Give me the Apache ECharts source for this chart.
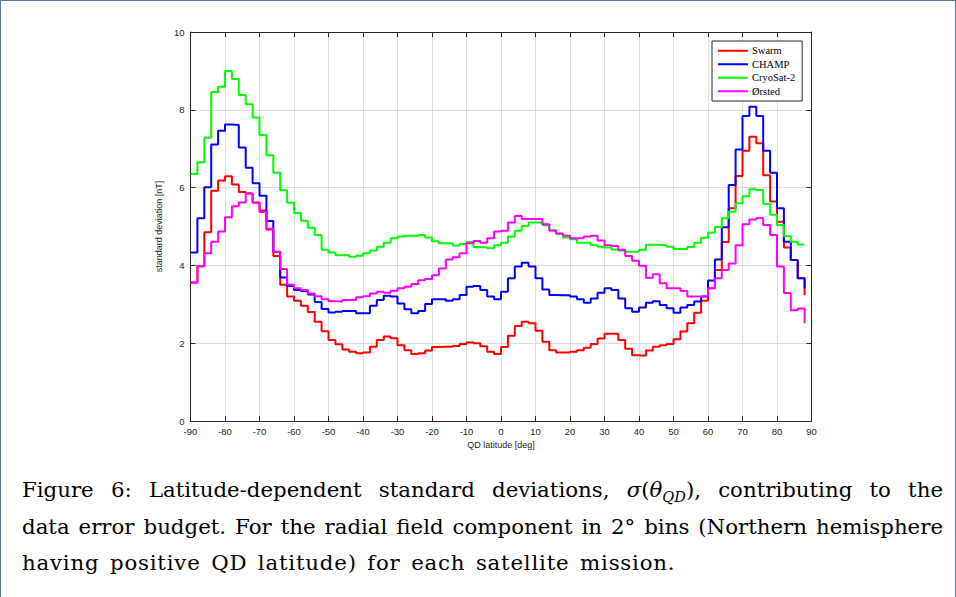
<!DOCTYPE html>
<html>
<head>
<meta charset="utf-8">
<script src="https://cdn.jsdelivr.net/npm/echarts@6/dist/echarts.min.js"></script>
<style>
  html, body { margin: 0; padding: 0; background: #fff; }
  #page { position: relative; width: 956px; height: 597px; overflow: hidden; background: #fff; }
  #frame { position: absolute; left: 0; top: 0; width: 954px; height: 600px; border: 1px solid #56769a; }
  #chart { position: absolute; left: 0; top: 0; width: 956px; height: 597px; }
  #cap { position: absolute; left: 22px; top: 472px; width: 921px; font-family: 'DejaVu Serif', 'Liberation Serif', serif; font-size: 21.3px; line-height: 36.5px; color: #000; }
  #cap div { white-space: nowrap; }
  #cap .j { text-align: justify; text-align-last: justify; }
  #cap .last { letter-spacing: 0.8px; word-spacing: 3px; }
  #cap sub { font-size: 14.5px; line-height: 0; }
</style>
</head>
<body>
<div id="page">
  <div id="chart"></div>
  <div id="frame"></div>
  <div id="cap">
    <div class="j">Figure 6: Latitude-dependent standard deviations, <i>σ</i>(<i>θ</i><sub><i>QD</i></sub>), contributing to the</div>
    <div class="j">data error budget. For the radial field component in 2° bins (Northern hemisphere</div>
    <div class="last">having positive QD latitude) for each satellite mission.</div>
  </div>
</div>
<script>
// Bin start latitudes (2 degree bins), last entry is the closing value at 88
const latitudes = [];
for (let l = -90; l <= 88; l += 2) latitudes.push(l);

const seriesNames = ['Swarm', 'CHAMP', 'CryoSat-2', 'Ørsted'];

const swarm = [3.56, 3.98, 4.85, 5.92, 6.18, 6.29, 6.08, 5.89, 5.85, 5.62,
  5.41, 4.92, 4.24, 3.50, 3.20, 3.09, 2.96, 2.80, 2.55, 2.31,
  2.08, 1.97, 1.84, 1.78, 1.74, 1.76, 1.91, 2.08, 2.17, 2.13,
  1.95, 1.82, 1.72, 1.74, 1.81, 1.90, 1.91, 1.91, 1.93, 1.98,
  2.02, 2.00, 1.92, 1.78, 1.72, 1.90, 2.19, 2.44, 2.55, 2.51,
  2.32, 2.04, 1.82, 1.76, 1.76, 1.78, 1.82, 1.88, 1.98, 2.12,
  2.24, 2.24, 2.08, 1.86, 1.69, 1.68, 1.81, 1.91, 1.95, 1.98,
  2.10, 2.30, 2.51, 2.78, 3.09, 3.41, 3.88, 4.60, 5.47, 6.30,
  6.95, 7.31, 7.14, 6.32, 5.64, 5.12, 4.46, 4.14, 3.67, 3.23];

const champ = [4.33, 5.21, 6.01, 7.11, 7.46, 7.62, 7.61, 7.03, 6.51, 6.11,
  5.79, 5.14, 4.35, 3.69, 3.47, 3.37, 3.34, 3.25, 3.06, 2.88,
  2.79, 2.81, 2.83, 2.83, 2.77, 2.77, 2.96, 3.11, 3.22, 3.20,
  3.02, 2.87, 2.77, 2.83, 3.01, 3.13, 3.13, 3.09, 3.13, 3.24,
  3.45, 3.47, 3.37, 3.20, 3.13, 3.32, 3.67, 3.97, 4.07, 3.97,
  3.67, 3.38, 3.24, 3.23, 3.23, 3.20, 3.13, 3.04, 3.15, 3.30,
  3.41, 3.37, 3.15, 2.90, 2.81, 2.92, 3.04, 3.08, 2.98, 2.90,
  2.78, 2.92, 2.98, 3.07, 3.20, 3.61, 4.15, 4.98, 6.07, 6.98,
  7.84, 8.08, 7.84, 6.95, 6.38, 5.47, 4.61, 4.14, 3.67, 3.41];

const cryosat = [6.35, 6.65, 7.28, 8.46, 8.59, 9.00, 8.79, 8.38, 8.14, 7.80,
  7.35, 6.83, 6.38, 5.93, 5.61, 5.35, 5.15, 4.97, 4.78, 4.40,
  4.33, 4.26, 4.27, 4.22, 4.25, 4.31, 4.38, 4.48, 4.58, 4.70,
  4.74, 4.76, 4.76, 4.78, 4.72, 4.62, 4.57, 4.57, 4.51, 4.55,
  4.60, 4.47, 4.46, 4.44, 4.52, 4.58, 4.74, 4.89, 5.01, 5.10,
  5.10, 5.04, 4.91, 4.81, 4.72, 4.67, 4.58, 4.58, 4.52, 4.48,
  4.46, 4.41, 4.38, 4.35, 4.35, 4.40, 4.53, 4.53, 4.52, 4.48,
  4.42, 4.42, 4.47, 4.58, 4.71, 4.84, 4.99, 5.21, 5.38, 5.60,
  5.78, 5.96, 5.94, 5.58, 5.30, 5.04, 4.75, 4.61, 4.54, 4.54];

const orsted = [3.56, 3.98, 4.31, 4.61, 4.87, 5.24, 5.52, 5.62, 5.85, 5.61,
  5.37, 4.94, 4.35, 3.91, 3.50, 3.41, 3.37, 3.28, 3.21, 3.13,
  3.08, 3.07, 3.11, 3.11, 3.18, 3.21, 3.28, 3.32, 3.30, 3.35,
  3.41, 3.45, 3.52, 3.62, 3.65, 3.75, 3.92, 4.15, 4.21, 4.31,
  4.57, 4.63, 4.58, 4.70, 4.87, 4.89, 5.10, 5.27, 5.19, 5.19,
  5.19, 5.06, 4.89, 4.82, 4.76, 4.70, 4.70, 4.74, 4.76, 4.64,
  4.52, 4.50, 4.40, 4.24, 4.12, 3.99, 3.68, 3.77, 3.54, 3.41,
  3.41, 3.34, 3.20, 3.20, 3.21, 3.41, 3.67, 3.88, 4.05, 4.52,
  5.06, 5.18, 5.22, 5.04, 4.78, 3.97, 3.29, 2.85, 2.89, 2.51];

const xTicks = [-90, -80, -70, -60, -50, -40, -30, -20, -10, 0, 10, 20, 30, 40, 50, 60, 70, 80, 90];
const yTicks = [0, 2, 4, 6, 8, 10];

const colors = ['#ff0000', '#0000ff', '#00ff00', '#ff00ff'];
const values = [swarm, champ, cryosat, orsted];

const axisColor = '#262626';
const gridColor = '#dedede';
const sans = "'Liberation Sans', Arial, sans-serif";

const chart = echarts.init(document.getElementById('chart'), null, { renderer: 'svg' });

const series = seriesNames.map((name, k) => ({
  name: name,
  type: 'line',
  step: 'end',
  showSymbol: false,
  symbol: 'none',
  xAxisIndex: 0,
  yAxisIndex: 0,
  lineStyle: { color: colors[k], width: 2 },
  itemStyle: { color: colors[k] },
  emphasis: { disabled: true },
  animation: false,
  data: latitudes.map((lat, i) => [lat, values[k][i]])
}));

const tickStyle = { show: true, inside: true, length: 5, lineStyle: { color: axisColor, width: 1 } };

chart.setOption({
  animation: false,
  backgroundColor: 'transparent',
  grid: { left: 190.5, right: 144.5, top: 32, bottom: 176, containLabel: false },
  legend: {
    data: seriesNames,
    orient: 'vertical',
    left: 712,
    top: 41,
    padding: [4, 7, 4, 6],
    itemGap: 2,
    itemWidth: 30,
    itemHeight: 2,
    icon: 'rect',
    borderColor: axisColor,
    borderWidth: 1,
    backgroundColor: '#fff',
    selectedMode: false,
    textStyle: { fontFamily: "'Liberation Serif', serif", fontSize: 10.5, color: '#000', lineHeight: 11.5, padding: [0, 0, 0, -1] }
  },
  xAxis: [
    {
      type: 'value', min: xTicks[0], max: xTicks[xTicks.length - 1], interval: 10,
      position: 'bottom',
      name: 'QD latitude [deg]', nameLocation: 'middle', nameGap: 18,
      nameTextStyle: { fontFamily: sans, fontSize: 9, color: axisColor },
      axisLine: { show: true, onZero: false, lineStyle: { color: axisColor, width: 1 } },
      axisTick: tickStyle,
      axisLabel: { fontFamily: sans, fontSize: 9.5, color: axisColor, margin: 5 },
      splitLine: { show: true, lineStyle: { color: gridColor, width: 1 } }
    },
    {
      type: 'value', min: xTicks[0], max: xTicks[xTicks.length - 1], interval: 10,
      position: 'top',
      axisLine: { show: true, onZero: false, lineStyle: { color: axisColor, width: 1 } },
      axisTick: tickStyle,
      axisLabel: { show: false },
      splitLine: { show: false }
    }
  ],
  yAxis: [
    {
      type: 'value', min: yTicks[0], max: yTicks[yTicks.length - 1], interval: 2,
      position: 'left',
      name: 'standard deviation [nT]', nameLocation: 'middle', nameGap: 14, nameRotate: 90,
      nameTextStyle: { fontFamily: sans, fontSize: 9, color: axisColor },
      axisLine: { show: true, onZero: false, lineStyle: { color: axisColor, width: 1 } },
      axisTick: tickStyle,
      axisLabel: { fontFamily: sans, fontSize: 9.5, color: axisColor, margin: 6 },
      splitLine: { show: true, lineStyle: { color: gridColor, width: 1 } }
    },
    {
      type: 'value', min: yTicks[0], max: yTicks[yTicks.length - 1], interval: 2,
      position: 'right',
      axisLine: { show: true, onZero: false, lineStyle: { color: axisColor, width: 1 } },
      axisTick: tickStyle,
      axisLabel: { show: false },
      splitLine: { show: false }
    }
  ],
  series: series
});
</script>
</body>
</html>
